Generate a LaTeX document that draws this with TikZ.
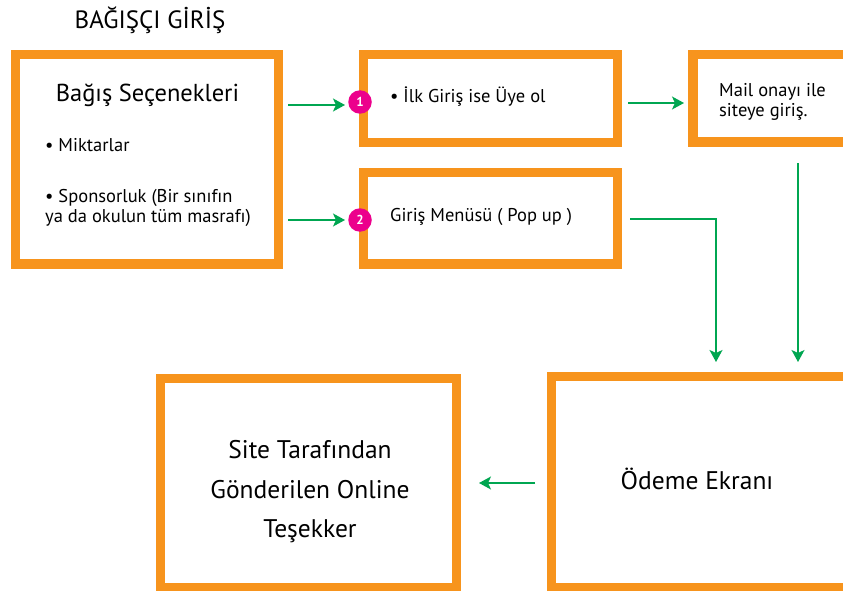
\documentclass[tikz,border=0pt]{standalone}
\usepackage{fontspec}
\setmainfont{PT Sans}
\usetikzlibrary{arrows.meta}
\definecolor{frameorange}{HTML}{F7941D}
\definecolor{flowgreen}{HTML}{00A651}
\definecolor{badgepink}{HTML}{EC008C}
\tikzset{
  framebox/.style={draw=frameorange, line width=9.5pt, fill=white, inner sep=0pt},
  flow/.style={draw=flowgreen, line width=1.6pt, -{Stealth[length=12pt,width=13pt,inset=3pt]}},
  badge/.style={circle, fill=badgepink, text=white, minimum size=23.5pt, inner sep=0pt, font=\fontsize{13}{13}\selectfont\bfseries},
  txt/.style={inner sep=0pt, anchor=west, align=left, text=black},
  body/.style={font=\fontsize{18.5}{20}\selectfont},
}
\begin{document}
\begin{tikzpicture}[x=1pt,y=-1pt]
\useasboundingbox (0,0) rectangle (843,591);
\clip (0,0) rectangle (843,591);
\fill[white] (0,0) rectangle (843,591);

\node[txt, anchor=center, font=\fontsize{25}{28}\selectfont] (title) at (150,20) {BAĞIŞÇI GİRİŞ};

% boxes
\node[framebox, minimum width=263pt, minimum height=209.5pt] (b1) at (147,159.25) {};
\node[framebox, minimum width=254pt, minimum height=88pt] (b2) at (490.5,98.5) {};
\node[framebox, minimum width=254pt, minimum height=91.5pt] (b3) at (490.5,218.25) {};
\node[framebox, minimum width=260pt, minimum height=87.5pt] (b4) at (823,98.5) {};
\node[framebox, minimum width=296.2pt, minimum height=208.8pt] (b5) at (308.6,483.1) {};
\node[framebox, minimum width=300pt, minimum height=211pt] (b6) at (701.4,482) {};

% texts in box 1
\node[txt, anchor=center, font=\fontsize{24.5}{28}\selectfont] (t1) at (147.5,95) {Bağış Seçenekleri};
\node[txt, body] (t2) at (45,145) {• Miktarlar};
\node[txt, body] (t3) at (45,208) {• Sponsorluk (Bir sınıfın\\ya da okulun tüm masrafı)};

\node[txt, body] (t4) at (390,97) {• İlk Giriş ise Üye ol};
\node[txt, body] (t5) at (390,217) {Giriş Menüsü ( Pop up )};
\node[txt, body] (t6) at (719,102) {Mail onayı ile\\siteye giriş.};
\node[txt, anchor=center, align=center, font=\fontsize{25.5}{39.5}\selectfont] (t7) at (310,492) {Site Tarafından\\Gönderilen Online\\Teşekker};
\node[txt, anchor=center, font=\fontsize{25.5}{28}\selectfont] (t8) at (697,479) {Ödeme Ekranı};

% badges
\node[badge] (n1) at (360,102) {1};
\node[badge] (n2) at (360,220) {2};

% connector anchors
\coordinate (a1s) at (288,105);
\coordinate (a1e) at (345,105);
\coordinate (a2s) at (288,220);
\coordinate (a2e) at (345,220);
\coordinate (a3s) at (628,103);
\coordinate (a3e) at (684,103);
\coordinate (a4s) at (630,219);
\coordinate (a4e) at (716,362);
\coordinate (a5s) at (798,163);
\coordinate (a5e) at (798,362);
\coordinate (a6s) at (535,483);
\coordinate (a6e) at (479,483);

\draw[flow] (a1s) -- (a1e);
\draw[flow] (a2s) -- (a2e);
\draw[flow] (a3s) -- (a3e);
\draw[flow] (a4s) -| (a4e);
\draw[flow] (a5s) -- (a5e);
\draw[flow] (a6s) -- (a6e);
\end{tikzpicture}
\end{document}
